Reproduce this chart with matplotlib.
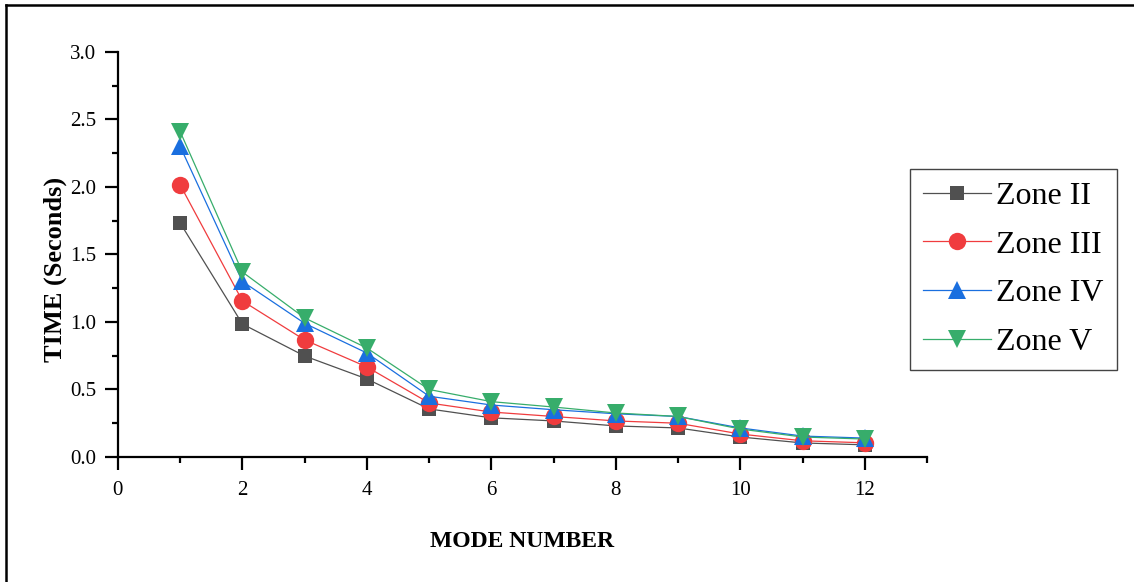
import matplotlib
matplotlib.use("Agg")
import matplotlib.pyplot as plt
from matplotlib.lines import Line2D
from matplotlib.ticker import MultipleLocator

plt.rcParams['font.family'] = ['Liberation Serif', 'DejaVu Serif']

# valores
modes = [1, 2, 3, 4, 5, 6, 7, 8, 9, 10, 11, 12]
zone_2 = [1.733, 0.985, 0.748, 0.578, 0.356, 0.290, 0.267, 0.230, 0.215, 0.148, 0.104, 0.090]
zone_3 = [2.015, 1.156, 0.867, 0.667, 0.400, 0.333, 0.300, 0.267, 0.250, 0.170, 0.120, 0.105]
zone_4 = [2.300, 1.300, 0.990, 0.770, 0.450, 0.385, 0.350, 0.320, 0.300, 0.215, 0.155, 0.140]
zone_5 = [2.410, 1.370, 1.030, 0.807, 0.500, 0.410, 0.370, 0.326, 0.300, 0.207, 0.148, 0.133]
labels = ["Zone II", "Zone III", "Zone IV", "Zone V"]

fig = plt.figure(figsize=(11.34, 5.82), dpi=100)
ax = fig.add_axes([0.104, 0.2148, 0.7135, 0.6959])

series = [
    (zone_2, 's', '#505050', 9.5),
    (zone_3, 'o', '#F03C3E', 12.5),
    (zone_4, '^', '#1A6FDF', 13.5),
    (zone_5, 'v', '#37AD6B', 13.5),
]
for (vals, mk, cor, ms), lab in zip(series, labels):
    ax.plot(modes, vals, marker=mk, color=cor, lw=0.9, ms=ms,
            markeredgewidth=0, label=lab)

ax.set_xlim(0, 13)
ax.set_ylim(0, 3.0)
ax.xaxis.set_major_locator(MultipleLocator(2))
ax.xaxis.set_minor_locator(MultipleLocator(1))
ax.yaxis.set_major_locator(MultipleLocator(0.5))
ax.yaxis.set_minor_locator(MultipleLocator(0.25))
ax.yaxis.set_major_formatter(matplotlib.ticker.FormatStrFormatter('%.1f'))

for s in ['top', 'right']:
    ax.spines[s].set_visible(False)
for s in ['left', 'bottom']:
    ax.spines[s].set_linewidth(1.6)

ax.tick_params(which='major', direction='out', length=9.5, width=1.6,
               labelsize=15, pad=6)
ax.tick_params(which='minor', direction='out', length=4, width=1.6)
ax.tick_params(axis='x', which='major', pad=8)

ax.set_xlabel("MODE NUMBER", fontsize=17, fontweight='bold', labelpad=22)
ax.set_ylabel("TIME (Seconds)", fontsize=19, fontweight='bold')
ax.yaxis.set_label_coords(-0.063, 0.462)

leg = ax.legend(loc='upper left', bbox_to_anchor=(0.8025, 0.7096),
                bbox_transform=fig.transFigure, borderaxespad=0,
                fontsize=23, handlelength=2.15, handletextpad=0.15,
                labelspacing=0.6, borderpad=0.4, fancybox=False,
                framealpha=1, edgecolor='#444444')
leg.get_frame().set_linewidth(1.0)

# moldura da figura (só esquerda e topo)
fig.add_artist(Line2D([0.005, 0.005], [0, 0.992], color='black', lw=1.8,
                      transform=fig.transFigure))
fig.add_artist(Line2D([0.005, 1.0], [0.992, 0.992], color='black', lw=1.8,
                      transform=fig.transFigure))

fig.savefig("out.png", dpi=100)
